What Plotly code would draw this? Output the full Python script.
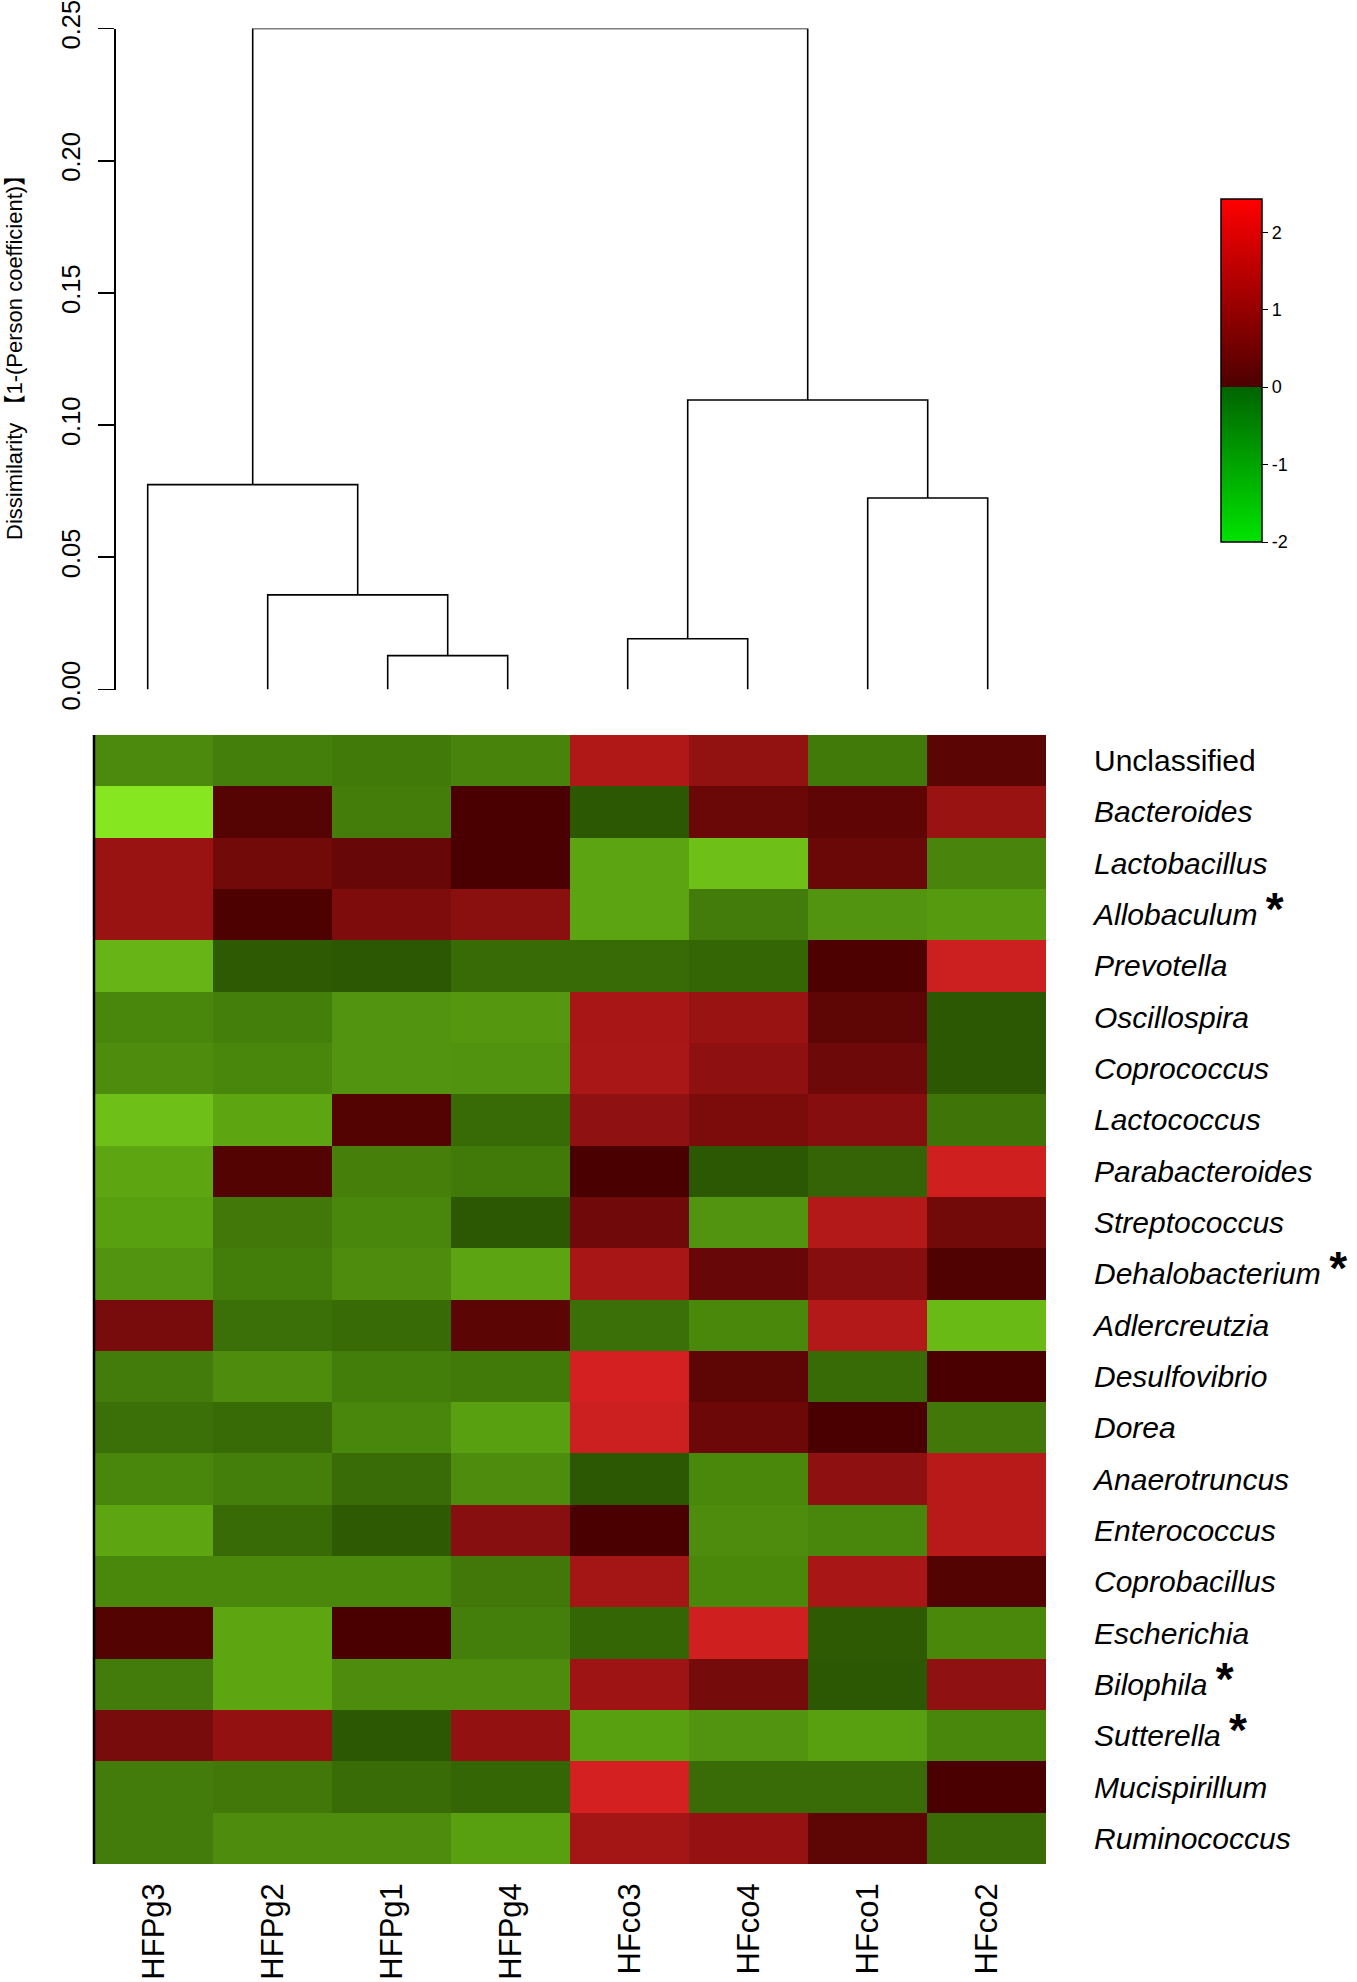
import plotly.graph_objects as go

# ---------------- data ----------------
samples = ["HFPg3", "HFPg2", "HFPg1", "HFPg4", "HFco3", "HFco4", "HFco1", "HFco2"]
genera = ["Unclassified", "Bacteroides", "Lactobacillus", "Allobaculum", "Prevotella",
          "Oscillospira", "Coprococcus", "Lactococcus", "Parabacteroides", "Streptococcus",
          "Dehalobacterium", "Adlercreutzia", "Desulfovibrio", "Dorea", "Anaerotruncus",
          "Enterococcus", "Coprobacillus", "Escherichia", "Bilophila", "Sutterella",
          "Mucispirillum", "Ruminococcus"]
italic_flag = [False] + [True] * 21
starred = ["Allobaculum", "Dehalobacterium", "Bilophila", "Sutterella"]

z_values = [
    [-0.72, -0.57, -0.51, -0.63, 1.62, 1.15, -0.51, 0.31],   # Unclassified
    [-1.95, 0.20, -0.55, 0.03, -0.05, 0.53, 0.37, 1.28],     # Bacteroides
    [1.28, 0.65, 0.50, 0.03, -1.07, -1.44, 0.53, -0.65],     # Lactobacillus
    [1.28, 0.09, 0.84, 1.03, -1.07, -0.53, -0.85, -0.93],    # Allobaculum
    [-1.28, -0.08, -0.05, -0.29, -0.29, -0.24, 0.09, 2.06],  # Prevotella
    [-0.67, -0.57, -0.85, -0.91, 1.50, 1.28, 0.34, -0.05],   # Oscillospira
    [-0.75, -0.67, -0.85, -0.83, 1.53, 1.09, 0.59, -0.05],   # Coprococcus
    [-1.44, -1.09, 0.19, -0.29, 1.12, 0.81, 0.97, -0.43],    # Lactococcus
    [-1.09, 0.19, -0.59, -0.51, 0.03, -0.05, -0.21, 2.12],   # Parabacteroides
    [-1.01, -0.48, -0.67, -0.05, 0.62, -0.85, 1.68, 0.65],   # Streptococcus
    [-0.85, -0.56, -0.75, -1.07, 1.50, 0.50, 0.97, 0.12],    # Dehalobacterium
    [0.75, -0.37, -0.29, 0.31, -0.37, -0.69, 1.68, -1.36],   # Adlercreutzia
    [-0.53, -0.75, -0.56, -0.51, 2.18, 0.34, -0.29, 0.03],   # Desulfovibrio
    [-0.37, -0.29, -0.67, -1.01, 2.06, 0.56, 0.03, -0.48],   # Dorea
    [-0.67, -0.57, -0.32, -0.75, -0.05, -0.69, 1.09, 1.74],  # Anaerotruncus
    [-1.09, -0.29, -0.08, 1.00, 0.03, -0.75, -0.67, 1.74],   # Enterococcus
    [-0.69, -0.69, -0.69, -0.48, 1.43, -0.69, 1.50, 0.19],   # Coprobacillus
    [0.19, -1.09, 0.03, -0.57, -0.24, 2.12, -0.08, -0.69],   # Escherichia
    [-0.53, -1.09, -0.75, -0.75, 1.34, 0.72, -0.05, 1.12],   # Bilophila
    [0.75, 1.18, -0.05, 1.18, -1.01, -0.85, -1.01, -0.67],   # Sutterella
    [-0.53, -0.48, -0.32, -0.24, 2.18, -0.32, -0.32, 0.03],  # Mucispirillum
    [-0.53, -0.75, -0.75, -1.01, 1.43, 1.22, 0.34, -0.32],   # Ruminococcus
]

# dendrogram merges: each child is ("leaf", column position) or ("node", merge index)
merge_children = [
    (("leaf", 2), ("leaf", 3)),   # HFPg1 + HFPg4
    (("leaf", 4), ("leaf", 5)),   # HFco3 + HFco4
    (("leaf", 1), ("node", 0)),   # HFPg2 + (HFPg1,HFPg4)
    (("leaf", 6), ("leaf", 7)),   # HFco1 + HFco2
    (("leaf", 0), ("node", 2)),   # HFPg3 + ...
    (("node", 1), ("node", 3)),   # HFco clusters
    (("node", 4), ("node", 5)),   # root
]
merge_height = [0.0128, 0.0192, 0.0358, 0.0724, 0.0775, 0.1095, 0.25]
dendro_ticks = [0.00, 0.05, 0.10, 0.15, 0.20, 0.25]
cbar_ticks = [-2, -1, 0, 1, 2]
zmin, zmax = -2.0, 2.43

# ---------------- geometry ----------------
W, H = 1357, 1982
def fx(px): return px / W
def fy(py): return 1 - py / H

FONT = "Liberation Sans, Arial, Noto Sans CJK SC, sans-serif"

# ---------------- dendrogram coordinates ----------------
node_x, node_h = {}, {}
dx, dy = [], []
for i, (a, b) in enumerate(merge_children):
    def xy(c):
        if c[0] == "leaf":
            return float(c[1]), 0.0
        return node_x[c[1]], node_h[c[1]]
    xa, ha = xy(a)
    xb, hb = xy(b)
    h = merge_height[i]
    node_x[i] = (xa + xb) / 2
    node_h[i] = h
    dx += [xa, xa, xb, xb, None]
    dy += [ha, h, h, hb, None]

# ---------------- colours ----------------
f0 = -zmin / (zmax - zmin)
heat_scale = [[0.0, "#88EA20"], [f0, "#2A5402"], [f0, "#480000"], [1.0, "#E42424"]]
bar_scale = [[0.0, "#00E400"], [f0, "#006400"], [f0, "#4C0000"], [1.0, "#FF0000"]]

def row_label(name, it, star):
    t = f"<i>{name}</i>" if it else name
    if star:
        t += " <span style='font-size:46px'><b>*</b></span>"
    return t

ticktext_rows = [row_label(g, i, g in starred) for g, i in zip(genera, italic_flag)]

fig = go.Figure()

fig.add_trace(go.Heatmap(
    z=z_values, x=list(range(len(samples))), y=list(range(len(genera))),
    colorscale=heat_scale, zmin=zmin, zmax=zmax, showscale=False,
    xaxis="x", yaxis="y", hoverinfo="skip"))

fig.add_trace(go.Scatter(
    x=[None], y=[None], mode="markers", xaxis="x", yaxis="y", showlegend=False,
    hoverinfo="skip",
    marker=dict(color=[0], colorscale=bar_scale, cmin=zmin, cmax=zmax, showscale=True,
                colorbar=dict(x=fx(1221), xanchor="left", y=fy(370.5), yanchor="middle",
                              len=343, lenmode="pixels", thickness=41, thicknessmode="pixels",
                              outlinewidth=1.5, outlinecolor="black", xpad=0, ypad=0,
                              ticks="outside", ticklen=6, tickwidth=1, tickcolor="black",
                              tickvals=cbar_ticks, ticktext=[str(v) for v in cbar_ticks],
                              tickfont=dict(size=18, color="black", family=FONT)))))

fig.add_trace(go.Scatter(
    x=dx, y=dy, mode="lines", line=dict(color="black", width=1.6),
    xaxis="x2", yaxis="y2", showlegend=False, hoverinfo="skip", cliponaxis=False))

fig.update_layout(
    width=W, height=H, margin=dict(l=0, r=0, t=0, b=0, autoexpand=False),
    paper_bgcolor="white", plot_bgcolor="white", showlegend=False,
    font=dict(family=FONT, color="black"),
    xaxis=dict(domain=[fx(94), fx(1046)], anchor="y", range=[-0.5, len(samples) - 0.5],
               tickvals=list(range(len(samples))), ticktext=samples, tickangle=-90,
               tickfont=dict(size=31, color="black"), ticks="", showgrid=False,
               zeroline=False, showline=False, ticklabelstandoff=12,
               automargin=False, ticklabeloverflow="allow"),
    yaxis=dict(domain=[fy(1864), fy(735)], anchor="x", side="right",
               range=[len(genera) - 0.5, -0.5], tickvals=list(range(len(genera))),
               ticktext=ticktext_rows, tickfont=dict(size=30, color="black"),
               ticks="", showgrid=False, zeroline=False, showline=False,
               ticklabelstandoff=47, automargin=False, ticklabeloverflow="allow"),
    xaxis2=dict(domain=[fx(87.7), fx(1047.7)], anchor="y2",
                range=[-0.5, len(samples) - 0.5], visible=False, automargin=False),
    yaxis2=dict(domain=[fy(689.5), fy(28.5)], anchor="free", position=fx(114),
                range=[0, 0.25 + 1e-9], tickvals=dendro_ticks,
                ticktext=[f"{v:.2f}" for v in dendro_ticks], tickangle=-90,
                tickfont=dict(size=25.5, color="black"), ticks="outside", ticklen=16,
                tickwidth=1.6, tickcolor="black", showline=True, linecolor="black",
                linewidth=1.6, showgrid=False, zeroline=False, ticklabelstandoff=8,
                ticklabeloverflow="allow", automargin=False),
)

# thin frame line on the left side of the heat map
fig.add_shape(type="line", xref="x domain", yref="y domain", x0=0, x1=0, y0=0, y1=1,
              line=dict(color="black", width=2.5))

fig.add_annotation(text="Dissimilarity 【1-(Person coefficient)】", textangle=-90,
                   xref="paper", yref="paper", x=fx(14), y=fy(352),
                   xanchor="center", yanchor="middle", showarrow=False,
                   font=dict(size=22, color="black", family=FONT))

fig.write_html(
    "out.html",
    config={"displayModeBar": False, "staticPlot": True},
    post_script=("document.documentElement.style.margin='0';"
                 "document.body.style.margin='0';"
                 "document.body.style.overflow='hidden';"
                 "document.documentElement.style.overflow='hidden';"))
